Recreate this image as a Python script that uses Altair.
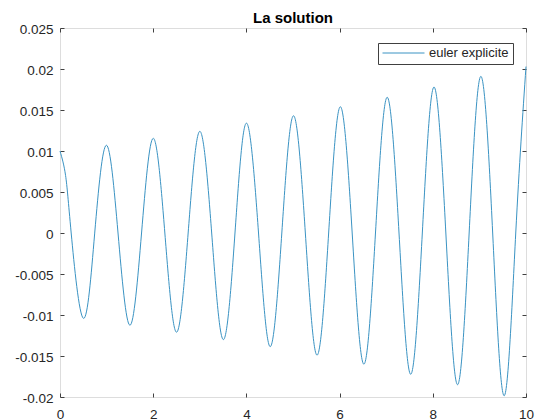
import altair as alt
import pandas as pd

# ---- data ----
t_values = [0.0, 0.12, 0.24, 0.5, 0.745, 0.995, 1.245, 1.5, 1.75, 2.0, 2.25, 2.5, 2.75,
            3.0, 3.255, 3.505, 3.755, 4.0, 4.26, 4.51, 4.76, 5.01, 5.265, 5.515,
            5.765, 6.015, 6.27, 6.52, 6.77, 7.02, 7.275, 7.525, 7.775, 8.025,
            8.28, 8.53, 8.78, 9.03, 9.285, 9.535, 9.78, 10.0]
u_values = [0.0100, 0.0070, 0.0, -0.0104, 0.0, 0.0107, 0.0, -0.01125, 0.0, 0.01155, 0.0,
            -0.0121, 0.0, 0.0124, 0.0, -0.0130, 0.0, 0.0134, 0.0, -0.01386, 0.0,
            0.0143, 0.0, -0.0149, 0.0, 0.0154, 0.0, -0.0160, 0.0, 0.01655, 0.0,
            -0.01723, 0.0, 0.0178, 0.0, -0.0185, 0.0, 0.0191, 0.0, -0.01984, 0.0,
            0.0203]
series_label = "euler explicite"
title_text = "La solution"
x_ticks = [0, 2, 4, 6, 8, 10]
y_ticks = [-0.02, -0.015, -0.01, -0.005, 0, 0.005, 0.01, 0.015, 0.02, 0.025]

df = pd.DataFrame({"t": t_values, "u": u_values, "serie": [series_label] * len(t_values)})

W, H = 466, 369
FONT = "Liberation Sans"
AX = "#404040"
LBL = "#262626"

base = alt.Chart(df)

line = base.mark_line(interpolate="natural", strokeWidth=1).encode(
    x=alt.X("t:Q",
            scale=alt.Scale(domain=[0, 10], nice=False, zero=False),
            axis=alt.Axis(orient="bottom", values=x_ticks, ticks=False, domain=False,
                          grid=False, title=None, labelPadding=10, labelFontSize=13.5,
                          labelFont=FONT, labelColor=LBL, labelFlush=False)),
    y=alt.Y("u:Q",
            scale=alt.Scale(domain=[-0.02, 0.025], nice=False, zero=False),
            axis=alt.Axis(orient="left", values=y_ticks, ticks=False, domain=False,
                          grid=False, title=None, labelPadding=7, labelFontSize=13.5,
                          labelFont=FONT, labelColor=LBL, labelFlush=False,
                          labelOffset=1,
                          labelExpr="toString(datum.value)")),
    color=alt.Color("serie:N",
                    scale=alt.Scale(domain=[series_label], range=["#3a93c3"]),
                    legend=alt.Legend(orient="none", legendX=318, legendY=15, title=None,
                                      symbolType="stroke", symbolSize=1764,
                                      symbolStrokeWidth=1, clipHeight=12, padding=4,
                                      labelOffset=4, labelFontSize=13, labelFont=FONT,
                                      labelColor=LBL, strokeColor=AX, fillColor="white",
                                      cornerRadius=0)),
)

ticks_a = base.mark_line(strokeOpacity=0).encode(
    x=alt.X("t:Q", axis=alt.Axis(orient="top", offset=-H, values=x_ticks, labels=False,
                                 domain=False, grid=False, title=None, tickSize=4,
                                 tickColor=AX)),
    y=alt.Y("u:Q", axis=alt.Axis(orient="right", offset=-W, values=y_ticks, labels=False,
                                 domain=False, grid=False, title=None, tickSize=4,
                                 tickColor=AX)),
)

ticks_b = base.mark_line(strokeOpacity=0).encode(
    x=alt.X("t:Q", axis=alt.Axis(orient="bottom", offset=-H, values=x_ticks, labels=False,
                                 domain=False, grid=False, title=None, tickSize=4,
                                 tickColor=AX)),
    y=alt.Y("u:Q", axis=alt.Axis(orient="left", offset=-W, values=y_ticks, labels=False,
                                 domain=False, grid=False, title=None, tickSize=4,
                                 tickColor=AX)),
)

chart = alt.layer(line, ticks_a, ticks_b).resolve_axis(
    x="independent", y="independent"
).properties(
    width=W, height=H,
    title=alt.TitleParams(title_text, fontSize=15, fontWeight="bold", font=FONT,
                          anchor="middle", offset=3, dy=7, color="black", frame="group"),
    autosize=alt.AutoSizeParams(type="none"),
    padding={"left": 60, "top": 28, "right": 10, "bottom": 23},
).configure_view(
    stroke=AX, strokeWidth=1
).configure(background="white")

chart.save("out.html", embed_options={"renderer": "svg", "actions": False})
